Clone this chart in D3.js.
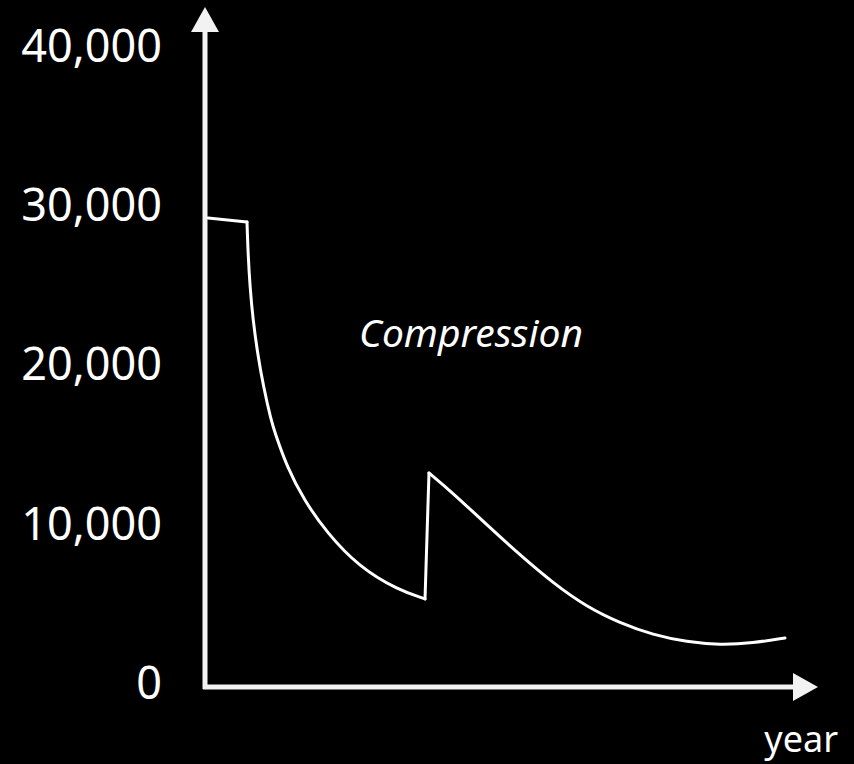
<!DOCTYPE html>
<html><head><meta charset="utf-8">
<script src="https://cdn.jsdelivr.net/npm/d3@7"></script>
<style>
html,body{margin:0;padding:0;background:#000;}
svg{display:block;}
</style></head>
<body>
<script>
// Data (year index, value)
const segStart   = [[0.5, 29450], [7.0, 29200]];
const segDecay1  = [[7.0, 29200], [7.17, 27250], [7.5, 25120], [8.0, 23050], [8.75, 20970], [9.75, 18840], [11.0, 16770], [11.67, 15950], [13.67, 13810], [16.5, 11740], [20.33, 9670], [25.67, 7540], [32.17, 6090], [36.67, 5530]];
const segJump    = [[36.67, 5530], [37.33, 13440]];
const segDecay2  = [[37.33, 13440], [41.33, 12180], [47.0, 10170], [52.5, 8290], [58.0, 6530], [63.67, 5020], [69.17, 4020], [74.67, 3270], [80.33, 2830], [85.83, 2640], [91.33, 2760], [96.67, 3080]];
const yTicks     = [0, 10000, 20000, 30000, 40000];
const xLabel     = "year";
const annotation = "Compression";

const W = 854, H = 764;
const svg = d3.select("body").append("svg").attr("width", W).attr("height", H)
  .style("background", "#000");

const x = d3.scaleLinear().domain([0, 100]).range([205, 805]);
const y = d3.scaleLinear().domain([0, 40000]).range([687, 50]);

const font = "'Noto Sans', 'Open Sans', sans-serif";

// Y axis labels
const yAxis = d3.axisLeft(y).tickValues(yTicks).tickSize(0).tickPadding(43).tickFormat(d3.format(","));
const gy = svg.append("g").attr("transform", `translate(${x(0)},0)`).call(yAxis);
gy.select(".domain").remove();
gy.selectAll("text").attr("fill", "#fff").style("font-family", font).style("font-size", "45px")
  .attr("dy", "0.25em");

// Axis lines with arrows
const axisColor = "#f2f2f2";
svg.append("line").attr("x1", x(0)).attr("x2", x(0)).attr("y1", y(0) + 2).attr("y2", 30)
  .attr("stroke", axisColor).attr("stroke-width", 5);
svg.append("path").attr("d", `M${x(0)},7 L${x(0) + 14},32 L${x(0) - 14},32 Z`).attr("fill", axisColor);

svg.append("line").attr("x1", x(0) - 2).attr("x2", 796).attr("y1", y(0)).attr("y2", y(0))
  .attr("stroke", axisColor).attr("stroke-width", 5);
svg.append("path").attr("d", `M818,${y(0)} L793,${y(0) - 14} L793,${y(0) + 14} Z`).attr("fill", axisColor);

// Line segments
const lineLin = d3.line().x(d => x(d[0])).y(d => y(d[1]));
const lineSmooth = d3.line().x(d => x(d[0])).y(d => y(d[1])).curve(d3.curveBasis);
[[segStart, lineLin], [segDecay1, lineSmooth], [segJump, lineLin], [segDecay2, lineSmooth]].forEach(([data, gen]) => {
  svg.append("path").datum(data).attr("d", gen).attr("fill", "none")
    .attr("stroke", "#fff").attr("stroke-width", 3).attr("stroke-linejoin", "round").attr("stroke-linecap", "round");
});

// Texts
svg.append("text").attr("x", 838).attr("y", 752).attr("text-anchor", "end")
  .attr("fill", "#fff").style("font-family", font).style("font-size", "36px").text(xLabel);
svg.append("text").attr("x", 359).attr("y", 347)
  .attr("fill", "#fff").style("font-family", font).style("font-style", "italic").style("font-size", "39px").text(annotation);
</script>
</body></html>
